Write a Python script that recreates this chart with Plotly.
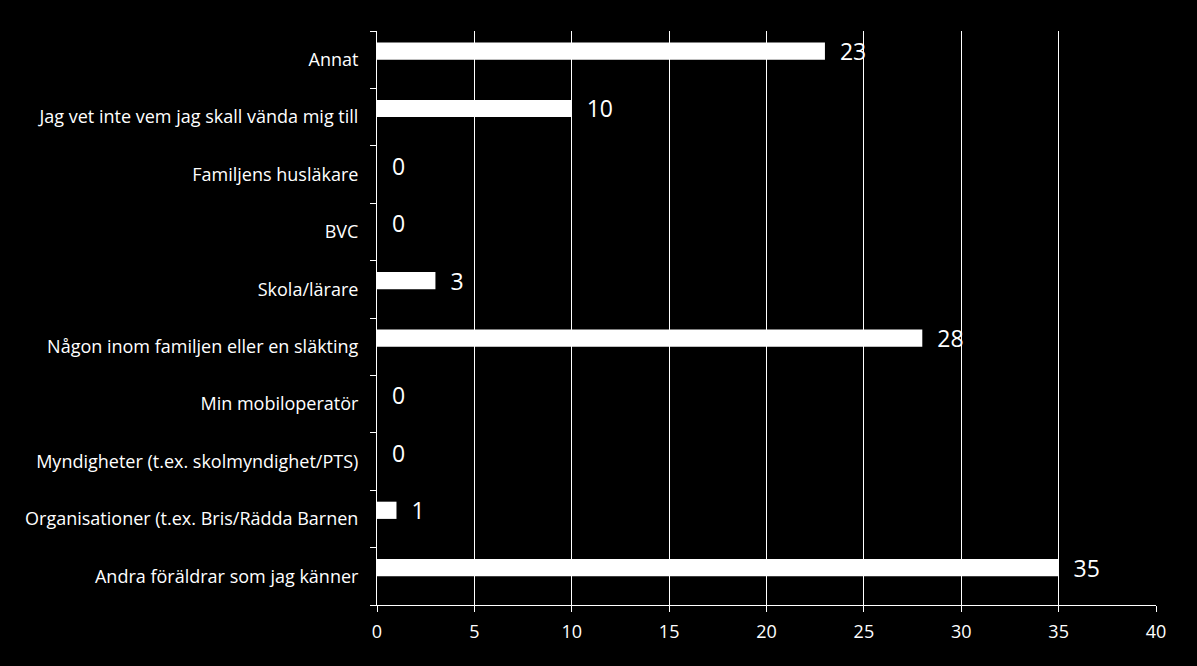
import plotly.graph_objects as go

categories = [
    "Andra föräldrar som jag känner",
    "Organisationer (t.ex. Bris/Rädda Barnen",
    "Myndigheter (t.ex. skolmyndighet/PTS)",
    "Min mobiloperatör",
    "Någon inom familjen eller en släkting",
    "Skola/lärare",
    "BVC",
    "Familjens husläkare",
    "Jag vet inte vem jag skall vända mig till",
    "Annat",
]
values = [35, 1, 0, 0, 28, 3, 0, 0, 10, 23]

fig = go.Figure(go.Bar(
    x=values, y=categories, orientation="h",
    width=0.3, offset=0,
    marker=dict(color="white", line=dict(width=0)),
    texttemplate="\u00a0\u00a0%{x}", textposition="outside",
    textfont=dict(color="white", size=23, family="Open Sans"),
    constraintext="none",
    cliponaxis=False,
))

fig.update_layout(
    width=1197, height=666,
    paper_bgcolor="black", plot_bgcolor="black",
    margin=dict(l=377, r=41, t=31, b=61),
    showlegend=False,
    font=dict(family="Open Sans", color="white", size=18),
)
fig.update_xaxes(
    range=[0, 40], dtick=5, showgrid=True, gridcolor="white", gridwidth=1,
    showline=True, linecolor="white", linewidth=1,
    ticks="outside", ticklen=6, tickcolor="white",
    tickfont=dict(size=18), ticklabelstandoff=4, zeroline=False,
)
fig.update_yaxes(
    range=[-0.5, 9.5],
    showline=True, linecolor="white", linewidth=1,
    ticks="outside", tickson="boundaries", ticklen=6, tickcolor="white",
    showgrid=False, tickfont=dict(size=18), ticklabelstandoff=14,
)

fig.write_html("out.html", config={"displayModeBar": False},
               post_script="document.body.style.margin='0';document.body.style.background='black';")
